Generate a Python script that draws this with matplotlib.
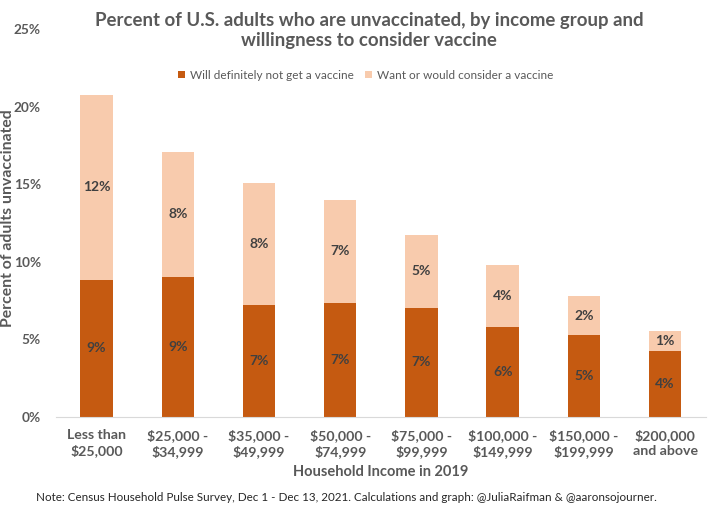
import matplotlib
matplotlib.use("Agg")
import matplotlib.pyplot as plt
import numpy as np

plt.rcParams['font.family'] = ['Lato', 'DejaVu Sans']

grupos = ['Less than\n$25,000', '$25,000 -\n$34,999', '$35,000 -\n$49,999', '$50,000 -\n$74,999',
          '$75,000 -\n$99,999', '$100,000 -\n$149,999', '$150,000 -\n$199,999', '$200,000\nand above']
no_vacuna = [8.82, 8.99, 7.19, 7.36, 7.03, 5.77, 5.29, 4.24]
considera = [11.93, 8.11, 7.87, 6.62, 4.71, 4.00, 2.48, 1.31]
etiq_no = ['9%', '9%', '7%', '7%', '7%', '6%', '5%', '4%']
etiq_con = ['12%', '8%', '8%', '7%', '5%', '4%', '2%', '1%']

oscuro = '#C55A11'
claro = '#F8CBAD'
gris = '#595959'

fig = plt.figure(figsize=(7.1, 5.14), dpi=100)
ax = fig.add_axes([0.0789, 0.189, 0.915, 0.7546])

x = np.arange(len(grupos))
b1 = ax.bar(x, no_vacuna, width=0.4, color=oscuro, label='Will definitely not get a vaccine')
b2 = ax.bar(x, considera, width=0.4, bottom=no_vacuna, color=claro, label='Want or would consider a vaccine')
ax.bar_label(b1, labels=etiq_no, label_type='center', color='#404040', fontsize=10, fontweight='bold')
ax.bar_label(b2, labels=etiq_con, label_type='center', color='#404040', fontsize=10, fontweight='bold')

ax.set_xlim(-0.5, len(grupos) - 0.5)
ax.set_ylim(0, 25)
ax.set_yticks([0, 5, 10, 15, 20, 25])
ax.set_yticklabels(['0%', '5%', '10%', '15%', '20%', '25%'])
ax.set_xticks(x)
ax.set_xticklabels(grupos, linespacing=1.3)
ax.tick_params(axis='x', length=0, colors=gris, labelsize=10.2, pad=9)
ax.tick_params(axis='y', length=0, colors=gris, labelsize=9.8, pad=11)
for lbl in ax.get_xticklabels() + ax.get_yticklabels():
    lbl.set_fontweight('bold')

for s in ['top', 'right', 'left']:
    ax.spines[s].set_visible(False)
ax.spines['bottom'].set_color('#D9D9D9')

ax.set_ylabel('Percent of adults unvaccinated', fontsize=11.3, fontweight='bold', color=gris)
ax.yaxis.set_label_coords(-0.063, 0.512)
ax.set_xlabel('Household Income in 2019', fontsize=10.5, fontweight='bold', color=gris, labelpad=5)

fig.text(0.52, 0.94, 'Percent of U.S. adults who are unvaccinated, by income group and\nwillingness to consider vaccine',
         ha='center', va='center', fontsize=13.4, fontweight='bold', color=gris, linespacing=1.2)

ax.legend(loc='center', bbox_to_anchor=(0.515, 0.854), bbox_transform=fig.transFigure, ncol=2,
          frameon=False, fontsize=8.5, handlelength=0.6, handleheight=0.6, columnspacing=1.0,
          handletextpad=0.4, labelcolor=gris)

fig.text(0.05, 0.033, 'Note: Census Household Pulse Survey, Dec 1 - Dec 13, 2021. Calculations and graph: @JuliaRaifman & @aaronsojourner.',
         ha='left', va='center', fontsize=8.35, color='#262626')

fig.savefig('out.png', dpi=100)
